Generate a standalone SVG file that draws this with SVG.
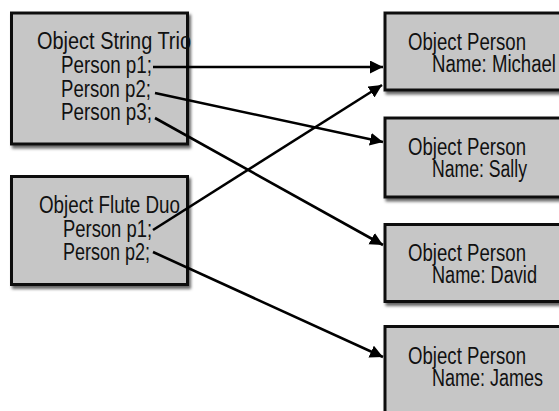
<svg xmlns="http://www.w3.org/2000/svg" width="559" height="411" viewBox="0 0 559 411">
  <style>
    .box { fill: #c6c6c6; stroke: #111; stroke-width: 3; filter: url(#shadow); }
    .t { font-family: "Liberation Sans", Arial, sans-serif; font-size: 23px; fill: #111; }
    .edge { stroke: #000; stroke-width: 2.6; fill: none; marker-end: url(#arrow); }
  </style>
  <defs>
    <filter id="shadow" x="-10%" y="-10%" width="130%" height="130%">
      <feDropShadow dx="2" dy="3" stdDeviation="1.6" flood-color="#000" flood-opacity="0.6"/>
    </filter>
    <marker id="arrow" markerUnits="userSpaceOnUse" markerWidth="14" markerHeight="14" refX="13" refY="6.5" orient="auto">
      <path d="M0,0 L13,6.5 L0,13 z" fill="#000"/>
    </marker>
  </defs>
  <rect width="559" height="411" fill="#fff"/>

  <g id="trio">
    <rect class="box" x="11.5" y="13" width="176" height="131"/>
    <text class="t" x="37" y="49" textLength="154" lengthAdjust="spacingAndGlyphs">Object String Trio</text>
    <text class="t" x="61" y="73" textLength="91" lengthAdjust="spacingAndGlyphs">Person p1;</text>
    <text class="t" x="61" y="97" textLength="90" lengthAdjust="spacingAndGlyphs">Person p2;</text>
    <text class="t" x="61" y="120" textLength="91" lengthAdjust="spacingAndGlyphs">Person p3;</text>
  </g>

  <g id="flute">
    <rect class="box" x="11.5" y="176.5" width="176" height="108"/>
    <text class="t" x="39" y="213" textLength="141" lengthAdjust="spacingAndGlyphs">Object Flute Duo</text>
    <text class="t" x="63" y="237" textLength="89" lengthAdjust="spacingAndGlyphs">Person p1;</text>
    <text class="t" x="63" y="260" textLength="87" lengthAdjust="spacingAndGlyphs">Person p2;</text>
  </g>

  <g id="michael">
    <rect class="box" x="385" y="13" width="200" height="77"/>
    <text class="t" x="408" y="50" textLength="118" lengthAdjust="spacingAndGlyphs">Object Person</text>
    <text class="t" x="432" y="72" textLength="124" lengthAdjust="spacingAndGlyphs">Name: Michael</text>
  </g>

  <g id="sally">
    <rect class="box" x="385" y="118" width="200" height="79"/>
    <text class="t" x="408" y="155" textLength="118" lengthAdjust="spacingAndGlyphs">Object Person</text>
    <text class="t" x="432" y="177" textLength="95" lengthAdjust="spacingAndGlyphs">Name: Sally</text>
  </g>

  <g id="david">
    <rect class="box" x="385" y="224.5" width="200" height="77"/>
    <text class="t" x="408" y="261" textLength="118" lengthAdjust="spacingAndGlyphs">Object Person</text>
    <text class="t" x="432" y="283" textLength="105" lengthAdjust="spacingAndGlyphs">Name: David</text>
  </g>

  <g id="james">
    <rect class="box" x="385" y="326.5" width="200" height="100"/>
    <text class="t" x="408" y="364" textLength="118" lengthAdjust="spacingAndGlyphs">Object Person</text>
    <text class="t" x="432" y="386" textLength="111" lengthAdjust="spacingAndGlyphs">Name: James</text>
  </g>

  <g id="connectors">
    <line class="edge" x1="153" y1="67" x2="383" y2="67"/>
    <line class="edge" x1="155" y1="93" x2="383" y2="142"/>
    <line class="edge" x1="155" y1="118" x2="383" y2="245"/>
    <line class="edge" x1="153" y1="230" x2="382" y2="85"/>
    <line class="edge" x1="153" y1="252" x2="383" y2="357"/>
  </g>
</svg>
